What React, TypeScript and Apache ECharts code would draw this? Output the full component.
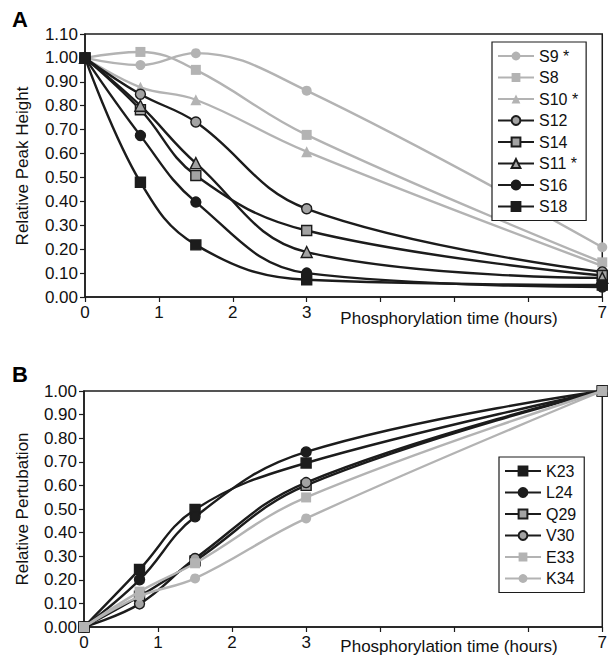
import React, { useEffect, useRef } from "react";
import * as echarts from "echarts";

const timesA = [0, 0.75, 1.5, 3, 7];
const timesB = [0, 0.75, 1.5, 3, 7];
const xTickLabels = ["0", "1", "2", "3", "", "", "", "7"];

const namesA = ["S9 *", "S8", "S10 *", "S12", "S14", "S11 *", "S16", "S18"];
const S9 = [1.0, 0.97, 1.02, 0.863, 0.208];
const S8 = [1.0, 1.025, 0.95, 0.678, 0.145];
const S10 = [1.0, 0.877, 0.825, 0.608, 0.13];
const S12 = [1.0, 0.848, 0.732, 0.369, 0.105];
const S14 = [1.0, 0.783, 0.508, 0.278, 0.09];
const S11 = [1.0, 0.8, 0.56, 0.188, 0.08];
const S16 = [1.0, 0.675, 0.397, 0.1, 0.042];
const S18 = [1.0, 0.48, 0.218, 0.072, 0.05];

const namesB = ["K23", "L24", "Q29", "V30", "E33", "K34"];
const K23 = [0, 0.244, 0.498, 0.695, 1.0];
const L24 = [0, 0.2, 0.467, 0.742, 1.0];
const Q29 = [0, 0.13, 0.28, 0.6, 1.0];
const V30 = [0, 0.098, 0.29, 0.612, 1.0];
const E33 = [0, 0.15, 0.27, 0.549, 1.0];
const K34 = [0, 0.13, 0.206, 0.46, 1.0];

const LIGHT = "#b3b3b3";
const DARK = "#1c1c1c";
const MID = "#a3a3a3";
const FONT = "Liberation Sans, Arial, sans-serif";

type Kind = "light" | "darkGray" | "darkBlack";

function mk(
  name: string,
  xs: number[],
  ys: number[],
  kind: Kind,
  symbol: string,
  axisIdx: number,
  z: number
) {
  const lineColor = kind === "light" ? LIGHT : DARK;
  const fill = kind === "light" ? LIGHT : kind === "darkGray" ? MID : DARK;
  const border = kind === "light" ? LIGHT : DARK;
  const size = symbol === "triangle" ? 11 : 10;
  return {
    type: "line",
    name,
    xAxisIndex: axisIdx,
    yAxisIndex: axisIdx,
    data: xs.map((x, i) => [x, ys[i]]),
    smooth: 0.4,
    symbol,
    symbolSize: size,
    showSymbol: true,
    lineStyle: { color: lineColor, width: 2.4 },
    itemStyle: { color: fill, borderColor: border, borderWidth: kind === "light" ? 0 : 1.4 },
    emphasis: { disabled: true },
    z,
  };
}

function xAxisCfg(gridIndex: number) {
  return {
    type: "value",
    gridIndex,
    min: 0,
    max: 7,
    interval: 1,
    axisLine: { show: true, onZero: false, lineStyle: { color: DARK, width: 1.5 } },
    axisTick: { show: true, length: 5, lineStyle: { color: DARK, width: 1.2 } },
    axisLabel: {
      color: "#111",
      fontSize: 17,
      fontFamily: FONT,
      margin: 7,
      formatter: (v: number) => xTickLabels[Math.round(v)] ?? "",
    },
    splitLine: { show: false },
  };
}

function yAxisCfg(gridIndex: number, max: number) {
  return {
    type: "value",
    gridIndex,
    min: 0,
    max,
    interval: 0.1,
    axisLine: { show: true, lineStyle: { color: DARK, width: 1.5 } },
    axisTick: { show: true, length: 5, lineStyle: { color: DARK, width: 1.2 } },
    axisLabel: {
      color: "#111",
      fontSize: 17,
      fontFamily: FONT,
      margin: 7,
      formatter: (v: number) => v.toFixed(2),
    },
    splitLine: { show: false },
  };
}

export default function App() {
  const ref = useRef<HTMLDivElement>(null);
  useEffect(() => {
    if (!ref.current) return;
    const chart = echarts.init(ref.current, undefined, { renderer: "svg" });
    const legendText = { fontSize: 16, fontFamily: FONT, color: "#111" };
    chart.setOption({
      animation: false,
      backgroundColor: "#fff",
      grid: [
        { left: 85, top: 34, width: 519, height: 263, show: true, borderColor: DARK, borderWidth: 1.5, backgroundColor: "transparent" },
        { left: 84, top: 391, width: 519, height: 236, show: true, borderColor: DARK, borderWidth: 1.5, backgroundColor: "transparent" },
      ],
      xAxis: [xAxisCfg(0), xAxisCfg(1)],
      yAxis: [yAxisCfg(0, 1.1), yAxisCfg(1, 1.0)],
      legend: [
        {
          data: namesA,
          orient: "vertical",
          left: 492,
          top: 42,
          itemWidth: 36,
          itemHeight: 11,
          itemGap: 5.5,
          padding: [6, 8, 6, 5],
          borderColor: DARK,
          borderWidth: 1.2,
          backgroundColor: "#fff",
          textStyle: legendText,
          selectedMode: false,
        },
        {
          data: namesB,
          orient: "vertical",
          left: 499,
          top: 457,
          itemWidth: 36,
          itemHeight: 11,
          itemGap: 5.5,
          padding: [6, 8, 6, 5],
          borderColor: DARK,
          borderWidth: 1.2,
          backgroundColor: "#fff",
          textStyle: legendText,
          selectedMode: false,
        },
      ],
      graphic: [
        { type: "text", left: 12, top: 8, style: { text: "A", font: "bold 22px " + FONT, fill: "#000" } },
        { type: "text", left: 12, top: 363, style: { text: "B", font: "bold 22px " + FONT, fill: "#000" } },
        {
          type: "text",
          x: 22,
          y: 166,
          rotation: Math.PI / 2,
          style: { text: "Relative Peak Height", font: "17px " + FONT, fill: "#111", align: "center", verticalAlign: "middle" },
        },
        {
          type: "text",
          x: 22,
          y: 509,
          rotation: Math.PI / 2,
          style: { text: "Relative Pertubation", font: "17px " + FONT, fill: "#111", align: "center", verticalAlign: "middle" },
        },
        {
          type: "text",
          x: 449,
          y: 318,
          style: { text: "Phosphorylation time (hours)", font: "17px " + FONT, fill: "#111", align: "center", verticalAlign: "middle" },
        },
        {
          type: "text",
          x: 449,
          y: 646,
          style: { text: "Phosphorylation time (hours)", font: "17px " + FONT, fill: "#111", align: "center", verticalAlign: "middle" },
        },
      ],
      series: [
        mk("S9 *", timesA, S9, "light", "circle", 0, 2),
        mk("S8", timesA, S8, "light", "rect", 0, 2),
        mk("S10 *", timesA, S10, "light", "triangle", 0, 2),
        mk("S12", timesA, S12, "darkGray", "circle", 0, 3),
        mk("S14", timesA, S14, "darkGray", "rect", 0, 3),
        mk("S11 *", timesA, S11, "darkGray", "triangle", 0, 3),
        mk("S16", timesA, S16, "darkBlack", "circle", 0, 3),
        mk("S18", timesA, S18, "darkBlack", "rect", 0, 3),
        mk("K23", timesB, K23, "darkBlack", "rect", 1, 2),
        mk("L24", timesB, L24, "darkBlack", "circle", 1, 2),
        mk("Q29", timesB, Q29, "darkGray", "rect", 1, 2),
        mk("V30", timesB, V30, "darkGray", "circle", 1, 2),
        mk("K34", timesB, K34, "light", "circle", 1, 3),
        mk("E33", timesB, E33, "light", "rect", 1, 4),
      ],
    });
    return () => chart.dispose();
  }, []);
  return (
    <div
      ref={ref}
      style={{ position: "fixed", left: 0, top: 0, width: 610, height: 656, background: "#fff" }}
    />
  );
}
